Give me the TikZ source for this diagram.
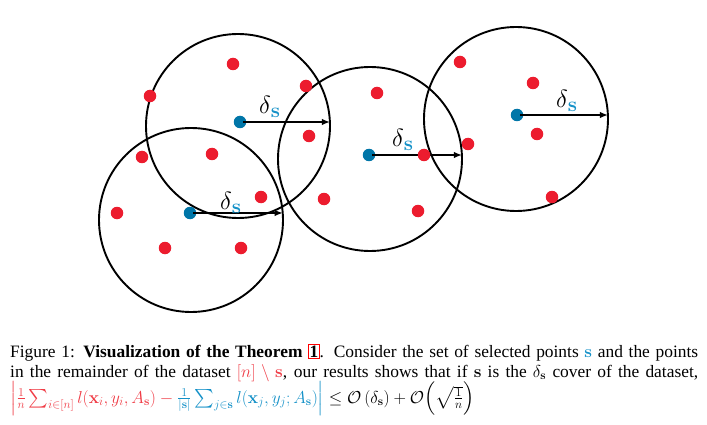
\documentclass[tikz,border=0pt]{standalone}
\usepackage[no-math]{fontspec}
\setmainfont{Liberation Serif}
\usepackage{amsmath,amssymb}
\usetikzlibrary{arrows.meta}
\definecolor{dotred}{RGB}{236,28,46}
\definecolor{dotblue}{RGB}{0,118,168}
\definecolor{sblue}{RGB}{20,145,200}
\definecolor{capred}{RGB}{240,60,70}
\tikzset{
  ball/.style={circle,draw=none,fill=#1,minimum size=12.5pt,inner sep=0pt},
  cover/.style={circle,draw=black,line width=1.9pt,minimum size=184pt,inner sep=0pt},
  radius arrow/.style={line width=1.4pt,-{Latex[length=8pt,width=6.5pt]},shorten <=-3pt},
  dlabel/.style={anchor=base west,inner sep=0pt},
  capline/.style={anchor=base west,inner sep=0pt,font=\fontsize{17.4}{20}\selectfont},
  mathline/.style={anchor=base west,inner sep=0pt,font=\fontsize{18.6}{21}\selectfont}
}
\newcommand{\dellab}{{\fontsize{25}{28}\selectfont$\delta$}{\fontsize{22}{24}\selectfont\raisebox{-4pt}{\color{sblue}$\mathbf{s}$}}}
\begin{document}
\begin{tikzpicture}[x=1pt,y=-1pt]
\useasboundingbox[fill=white] (0,0) rectangle (707,425);
% cover circles
\node[cover] (cA) at (238,126) {};
\node[cover] (cB) at (191,220) {};
\node[cover] (cC) at (370,159) {};
\node[cover] (cD) at (516,119) {};
% selected points
\node[ball=dotblue] (bA) at (240,122) {};
\node[ball=dotblue] (bB) at (190,213) {};
\node[ball=dotblue] (bC) at (369,155) {};
\node[ball=dotblue] (bD) at (517,115) {};
% arrow ends on circles
\coordinate (eA) at (329.9,122);
\coordinate (eB) at (282.7,213);
\coordinate (eC) at (461.9,155);
\coordinate (eD) at (607.9,115);
\draw[radius arrow] (bA) -- (eA);
\draw[radius arrow] (bB) -- (eB);
\draw[radius arrow] (bC) -- (eC);
\draw[radius arrow] (bD) -- (eD);
% remaining points
\foreach \p [count=\i] in {(233,64),(150,96),(306,86),(309,136),(212,154),(142,157),(261,197),(117,213),(165,248),(241,248),(324,199),(377,93),(424,155),(468,144),(460,62),(533,83),(537,134),(552,197),(418,211)}
  \node[ball=dotred] (r\i) at \p {};
% labels
\node[dlabel] (lA) at (259,114) {\dellab};
\node[dlabel] (lB) at (220,209) {\dellab};
\node[dlabel] (lC) at (392,147) {\dellab};
\node[dlabel] (lD) at (556,108) {\dellab};
% caption
\node[capline] (cap1) at (10,357) {\makebox[688pt][s]{Figure 1: \textbf{Visualization of the Theorem {\setlength{\fboxsep}{0.6pt}\setlength{\fboxrule}{0.7pt}\fcolorbox{red}{white}{1}}}. Consider the set of selected points {\color{sblue}$\mathbf{s}$} and the points}};
\node[capline] (cap2) at (10,377) {\makebox[688pt][s]{in the remainder of the dataset {\color{capred}$[n]\setminus\mathbf{s}$}, our results shows that if $\mathbf{s}$ is the $\delta_{\mathbf{s}}$ cover of the dataset,}};
\node[mathline] (cap3) at (10,403) {$\color{capred}\Bigl|\frac{1}{n}\sum_{i\in[n]} l(\mathbf{x}_i,y_i,A_{\mathbf{s}}) - \color{sblue}\frac{1}{|\mathbf{s}|}\sum_{j\in\mathbf{s}} l(\mathbf{x}_j,y_j;A_{\mathbf{s}})\Bigr| \color{black}\le \mathcal{O}\left(\delta_{\mathbf{s}}\right)+\mathcal{O}\Bigl(\sqrt{\tfrac{1}{n}}\Bigr)$};
\end{tikzpicture}
\end{document}
